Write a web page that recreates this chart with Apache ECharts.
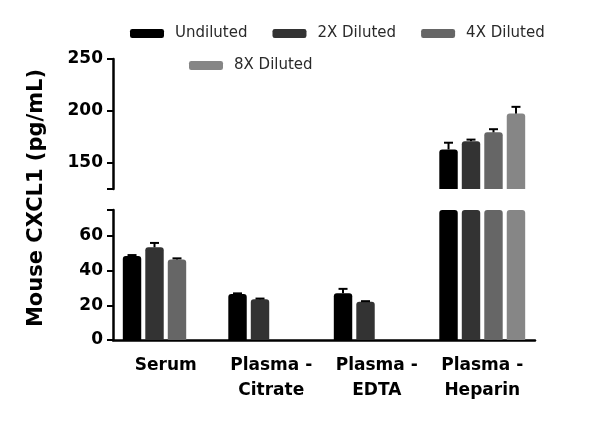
<!DOCTYPE html>
<html>
<head>
<meta charset="utf-8">
<script src="https://cdn.jsdelivr.net/npm/echarts@6/dist/echarts.min.js"></script>
<style>
    html, body { margin: 0; padding: 0; background: #fff; }
    #chart { width: 600px; height: 433px; }
</style>
</head>
<body>
<div id="chart"></div>
<script>
// categories and series
const categories = ["Serum", "Plasma -\nCitrate", "Plasma -\nEDTA", "Plasma -\nHeparin"];
const dilutions = ["Undiluted", "2X Diluted", "4X Diluted", "8X Diluted"];
const undiluted = [48.5, 26.5, 27, 163];
const diluted2x = [53.5, 23.5, 22, 171];
const diluted4x = [46.5, null, null, 179.5];
const diluted8x = [null, null, null, 197.5];
// SEM (upper side only)
const errUndiluted = [0.5, 0.4, 2.5, 6.5];
const err2x = [2.5, 0.4, 0.4, 1.5];
const err4x = [0.6, null, null, 3];
const err8x = [null, null, null, 6.5];
// broken y axis
const lowerTicks = [0, 20, 40, 60];
const upperTicks = [150, 200, 250];
const lowerRange = [0, 75];
const upperRange = [125, 250];

const values = [undiluted, diluted2x, diluted4x, diluted8x];
const errors = [errUndiluted, err2x, err4x, err8x];
const colors = ["#000000", "#333333", "#666666", "#868686"];
const catGap = 0.186;
const barGap = 0.22;
const font = "DejaVu Sans";

var myChart = echarts.init(document.getElementById("chart"));

// error bar drawn over the matching bar
function renderErr(params, api) {
    var cat = api.value(0), k = api.value(1), v = api.value(2), e = api.value(3);
    var band = api.size([1, 0])[0];
    var inner = band - band * catGap;
    var bw = inner / (4 + 3 * barGap);
    var base = api.coord([cat, v]);
    var x = base[0] - inner / 2 + k * bw * (1 + barGap) + bw / 2;
    var top = api.coord([cat, v + e])[1];
    var style = { stroke: "#000", lineWidth: 2 };
    return {
        type: "group",
        children: [
            { type: "line", shape: { x1: x, y1: base[1], x2: x, y2: top }, style: style },
            { type: "line", shape: { x1: x - 4.5, y1: top, x2: x + 4.5, y2: top }, style: style }
        ]
    };
}

function errData(inUpper) {
    var out = [];
    values.forEach(function(arr, k) {
        arr.forEach(function(v, c) {
            if (v == null) return;
            if ((v > upperRange[0]) === inUpper) out.push([c, k, v, errors[k][c]]);
        });
    });
    return out;
}

var series = [];
dilutions.forEach(function(name, k) {
    // lower segment
    series.push({
        name: name,
        type: "bar",
        xAxisIndex: 0,
        yAxisIndex: 0,
        barCategoryGap: catGap * 100 + "%",
        barGap: barGap * 100 + "%",
        clip: true,
        itemStyle: { color: colors[k], borderRadius: [3, 3, 0, 0] },
        data: values[k]
    });
    // upper segment
    series.push({
        name: name,
        type: "bar",
        xAxisIndex: 1,
        yAxisIndex: 1,
        barCategoryGap: catGap * 100 + "%",
        barGap: barGap * 100 + "%",
        clip: true,
        itemStyle: { color: colors[k], borderRadius: [3, 3, 0, 0] },
        data: values[k].map(function(v) { return v != null && v > upperRange[0] ? v : null; })
    });
});
series.push({
    type: "custom", xAxisIndex: 0, yAxisIndex: 0, z: 5,
    renderItem: renderErr, encode: { x: 0, y: 2 }, data: errData(false)
});
series.push({
    type: "custom", xAxisIndex: 1, yAxisIndex: 1, z: 5,
    renderItem: renderErr, encode: { x: 0, y: 2 }, data: errData(true)
});

var axisLine = { show: true, lineStyle: { color: "#000", width: 2.5 } };
var tickStyle = { show: true, lineStyle: { color: "#000", width: 2 }, length: 6 };
var labelStyle = { color: "#000", fontFamily: font, fontWeight: "bold", fontSize: 17 };
var legendText = { color: "#2a2a2a", fontFamily: font, fontSize: 15, padding: [0, 0, 0, 6] };

var option = {
    animation: false,
    backgroundColor: "#fff",
    legend: [
        {
            left: 125, top: 21, itemWidth: 34, itemHeight: 9, itemGap: 25, icon: "roundRect",
            textStyle: legendText, data: dilutions.slice(0, 3)
        },
        {
            left: 184, top: 53, itemWidth: 34, itemHeight: 9, icon: "roundRect",
            textStyle: legendText, data: dilutions.slice(3)
        }
    ],
    grid: [
        { left: 113, right: 65, top: 210, bottom: 93 },
        { left: 113, right: 65, top: 59, bottom: 244 }
    ],
    xAxis: [
        {
            type: "category", gridIndex: 0, data: categories,
            axisLine: axisLine,
            axisTick: { alignWithLabel: true, lineStyle: tickStyle.lineStyle, length: 6 },
            axisLabel: Object.assign({ margin: 13, lineHeight: 25, interval: 0 }, labelStyle)
        },
        { type: "category", gridIndex: 1, data: categories, show: false }
    ],
    yAxis: [
        {
            type: "value", gridIndex: 0, min: lowerRange[0], max: lowerRange[1],
            splitLine: { show: false },
            axisLine: axisLine,
            axisTick: Object.assign({ customValues: lowerTicks.concat([lowerRange[1]]) }, tickStyle),
            axisLabel: Object.assign({ customValues: lowerTicks, margin: 10 }, labelStyle)
        },
        {
            type: "value", gridIndex: 1, min: upperRange[0], max: upperRange[1],
            splitLine: { show: false },
            axisLine: axisLine,
            axisTick: Object.assign({ customValues: [upperRange[0]].concat(upperTicks) }, tickStyle),
            axisLabel: Object.assign({ customValues: upperTicks, margin: 10 }, labelStyle)
        }
    ],
    graphic: [
        {
            type: "text", x: 37, y: 198, rotation: Math.PI / 2,
            style: {
                text: "Mouse CXCL1 (pg/mL)", fill: "#000",
                font: "bold 21px " + font, textAlign: "center", textVerticalAlign: "middle"
            }
        }
    ],
    series: series
};

myChart.setOption(option);
</script>
</body>
</html>
